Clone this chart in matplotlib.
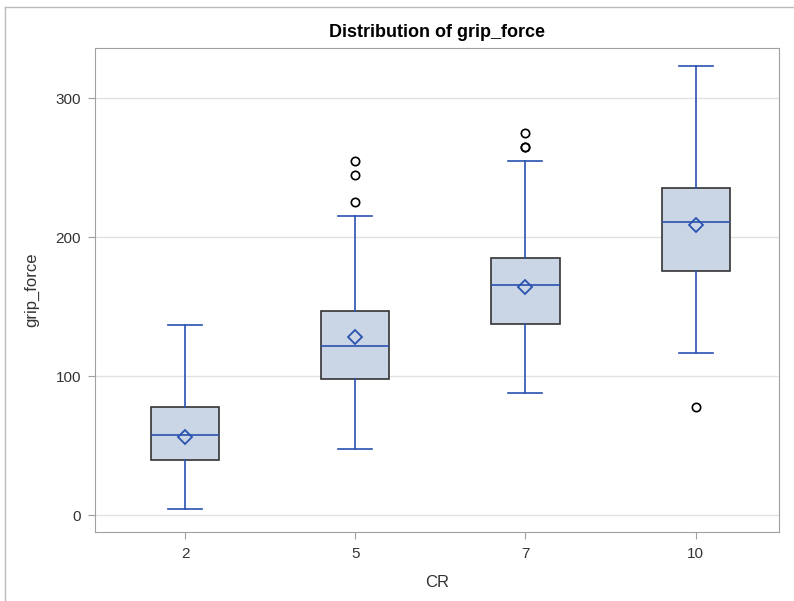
import matplotlib
matplotlib.use("Agg")
import matplotlib.pyplot as plt
from matplotlib.lines import Line2D

plt.rcParams['font.family'] = ['Liberation Sans', 'DejaVu Sans']

categories = ["2", "5", "7", "10"]
whislo = [4.3, 48, 88, 117]
q1 = [39.6, 98, 137.4, 175.5]
med = [58, 121.6, 165.5, 210.8]
mean = [56, 128, 164, 208.6]
q3 = [77.7, 146.8, 185, 235]
whishi = [137, 215, 255, 323]
fliers = [[], [225, 245, 255], [265, 265, 275], [78]]

fig = plt.figure(figsize=(7.94, 6.01), dpi=100)
ax = fig.add_axes([95/794, 1-532/601, (779-95)/794, (532-48)/601])

stats = []
for i, c in enumerate(categories):
    stats.append(dict(label=c, whislo=whislo[i], q1=q1[i], med=med[i], mean=mean[i],
                      q3=q3[i], whishi=whishi[i], fliers=fliers[i]))

blue = '#2A52B0'
ax.bxp(stats, positions=range(len(categories)), widths=0.4, capwidths=0.2,
       showmeans=True, patch_artist=True,
       boxprops=dict(facecolor='#CAD5E5', edgecolor='#333333', linewidth=1.2),
       whiskerprops=dict(color=blue, linewidth=1.2),
       capprops=dict(color=blue, linewidth=1.2),
       medianprops=dict(color=blue, linewidth=1.2),
       meanprops=dict(marker='D', markerfacecolor='none', markeredgecolor=blue,
                      markersize=7, markeredgewidth=1.3),
       flierprops=dict(marker='o', markerfacecolor='none', markeredgecolor='black',
                       markersize=6, markeredgewidth=1.2),
       zorder=3)

ax.set_xlim(-0.53, 3.49)
ax.set_ylim(-12, 336)
ax.set_yticks([0, 100, 200, 300])
ax.set_xticks(range(len(categories)))
ax.set_xticklabels(categories)
ax.grid(axis='y', color='#E2E2E2', linewidth=1, zorder=0)
ax.set_axisbelow(True)
for s in ax.spines.values():
    s.set_color('#A0A0A0')
ax.tick_params(axis='both', colors='#A0A0A0', labelcolor='#333333', labelsize=11,
               length=5, direction='out')
ax.tick_params(axis='x', pad=6)
ax.tick_params(axis='y', pad=5)
ax.set_xlabel('CR', fontsize=12, color='#333333', labelpad=10)
ax.set_ylabel('grip_force', fontsize=12, color='#333333', labelpad=12)
ax.set_title('Distribution of grip_force', fontsize=13, fontweight='bold', pad=8)

# outer frame lines
fig.add_artist(Line2D([5/794, 5/794], [0, 1-7/601], transform=fig.transFigure, color='#BBBBBB', lw=1))
fig.add_artist(Line2D([5/794, 1], [1-7/601, 1-7/601], transform=fig.transFigure, color='#BBBBBB', lw=1))

fig.savefig('out.png', dpi=100)
